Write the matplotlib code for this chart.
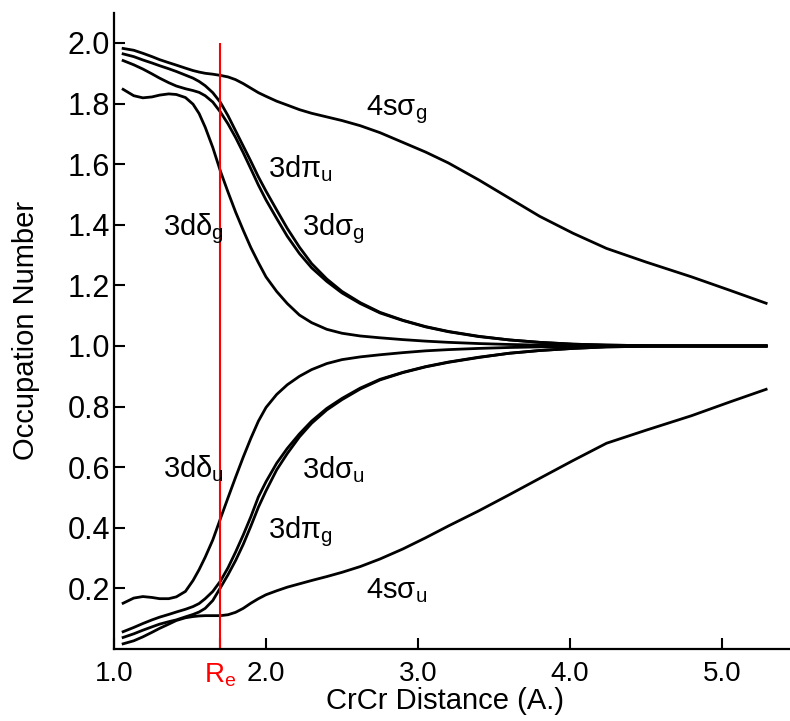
import numpy as np
import matplotlib
matplotlib.use("Agg")
import matplotlib.pyplot as plt

# fonts: Helvetica-like everywhere, subscripts through mathtext
plt.rcParams['font.family'] = ['Liberation Sans', 'DejaVu Sans']
plt.rcParams['mathtext.fontset'] = 'custom'
plt.rcParams['mathtext.rm'] = 'Liberation Sans'
plt.rcParams['mathtext.it'] = 'Liberation Sans'
plt.rcParams['mathtext.default'] = 'regular'

# %% DATA
R = [1.06, 1.13, 1.19, 1.25, 1.30, 1.36, 1.41, 1.47, 1.52, 1.56,
     1.60, 1.65, 1.70, 1.75, 1.80, 1.85, 1.90, 1.95, 2.00, 2.07,
     2.14, 2.22, 2.30, 2.40, 2.50, 2.62, 2.75, 2.90, 3.05, 3.20,
     3.40, 3.60, 3.80, 4.02, 4.24, 4.50, 4.80, 5.05, 5.29]

s4_sig_g = [1.982, 1.976, 1.966, 1.955, 1.945, 1.935, 1.927, 1.917, 1.909, 1.904,
            1.900, 1.897, 1.893, 1.888, 1.879, 1.866, 1.851, 1.836, 1.824, 1.808,
            1.795, 1.780, 1.768, 1.756, 1.744, 1.727, 1.704, 1.672, 1.640, 1.604,
            1.548, 1.488, 1.428, 1.372, 1.322, 1.277, 1.228, 1.184, 1.141]
d3_pi_u = [1.964, 1.955, 1.944, 1.934, 1.925, 1.915, 1.906, 1.894, 1.884, 1.873,
           1.859, 1.836, 1.804, 1.760, 1.710, 1.660, 1.610, 1.558, 1.511, 1.449,
           1.388, 1.326, 1.272, 1.221, 1.180, 1.143, 1.111, 1.085, 1.064, 1.048,
           1.032, 1.020, 1.012, 1.006, 1.003, 1.001, 1.000, 1.000, 1.000]
d3_sig_g = [1.942, 1.928, 1.914, 1.898, 1.884, 1.869, 1.858, 1.849, 1.843, 1.837,
            1.826, 1.805, 1.772, 1.733, 1.688, 1.638, 1.585, 1.531, 1.482, 1.421,
            1.362, 1.305, 1.258, 1.213, 1.175, 1.140, 1.109, 1.084, 1.063, 1.047,
            1.031, 1.020, 1.012, 1.006, 1.003, 1.001, 1.000, 1.000, 1.000]
d3_del_g = [1.847, 1.826, 1.819, 1.822, 1.828, 1.832, 1.830, 1.820, 1.798, 1.767,
            1.722, 1.655, 1.577, 1.508, 1.442, 1.382, 1.325, 1.275, 1.228, 1.180,
            1.140, 1.102, 1.077, 1.055, 1.042, 1.033, 1.027, 1.021, 1.016, 1.012,
            1.008, 1.005, 1.003, 1.002, 1.001, 1.000, 1.000, 1.000, 1.000]

s4_sig_u = [0.017, 0.027, 0.040, 0.055, 0.068, 0.082, 0.094, 0.103, 0.107, 0.109,
            0.110, 0.110, 0.110, 0.113, 0.121, 0.134, 0.151, 0.166, 0.179, 0.192,
            0.204, 0.215, 0.226, 0.239, 0.253, 0.272, 0.297, 0.330, 0.367, 0.406,
            0.456, 0.509, 0.563, 0.622, 0.679, 0.722, 0.770, 0.815, 0.857]
d3_sig_u = [0.057, 0.071, 0.084, 0.096, 0.105, 0.114, 0.122, 0.131, 0.140, 0.150,
            0.166, 0.190, 0.224, 0.268, 0.320, 0.376, 0.436, 0.502, 0.552, 0.613,
            0.662, 0.710, 0.752, 0.794, 0.827, 0.861, 0.890, 0.913, 0.932, 0.947,
            0.963, 0.976, 0.985, 0.992, 0.997, 0.999, 1.000, 1.000, 1.000]
d3_pi_g = [0.038, 0.050, 0.062, 0.073, 0.082, 0.090, 0.096, 0.106, 0.114, 0.122,
           0.134, 0.160, 0.202, 0.245, 0.292, 0.345, 0.405, 0.468, 0.522, 0.591,
           0.645, 0.700, 0.745, 0.789, 0.823, 0.858, 0.888, 0.912, 0.931, 0.946,
           0.962, 0.976, 0.985, 0.992, 0.997, 0.999, 1.000, 1.000, 1.000]
d3_del_u = [0.151, 0.168, 0.173, 0.170, 0.166, 0.166, 0.172, 0.190, 0.226, 0.262,
            0.303, 0.360, 0.430, 0.499, 0.567, 0.633, 0.695, 0.752, 0.797, 0.840,
            0.872, 0.900, 0.922, 0.942, 0.955, 0.964, 0.971, 0.978, 0.984, 0.988,
            0.992, 0.995, 0.997, 0.998, 0.999, 1.000, 1.000, 1.000, 1.000]

R_e = 1.70

# label text and where it sits (left edge, baseline)
labels = ['4sσ$_{g}$', '3dπ$_{u}$', '3dσ$_{g}$', '3dδ$_{g}$',
          '3dδ$_{u}$', '3dσ$_{u}$', '3dπ$_{g}$', '4sσ$_{u}$']
label_x = [2.66, 2.01, 2.24, 1.32, 1.32, 2.24, 2.01, 2.66]
label_y = [1.762, 1.558, 1.366, 1.366, 0.568, 0.564, 0.366, 0.168]

# %% PLOT
fig = plt.figure(figsize=(7.9, 7.21), dpi=100)
ax = fig.add_axes([0.1443, 0.0999, 0.8557, 0.8825])

for occ in [s4_sig_g, d3_pi_u, d3_sig_g, d3_del_g,
            s4_sig_u, d3_sig_u, d3_pi_g, d3_del_u]:
    ax.plot(R, occ, color='black', lw=2.0, solid_joinstyle='round')

ax.vlines(R_e, 0.0, 2.0, color='red', lw=1.5)

for txt, lx, ly in zip(labels, label_x, label_y):
    ax.text(lx, ly, txt, fontsize=21, ha='left', va='baseline')

ax.set_xlim(1.0, 5.447)
ax.set_ylim(0.0, 2.1)

ax.set_xticks([1.0, R_e, 2.0, 3.0, 4.0, 5.0])
ax.set_xticklabels(['1.0', 'R$_{e}$', '2.0', '3.0', '4.0', '5.0'])
ax.get_xticklabels()[1].set_color('red')
ax.set_yticks([0.2, 0.4, 0.6, 0.8, 1.0, 1.2, 1.4, 1.6, 1.8, 2.0])
ax.set_yticklabels(['0.2', '0.4', '0.6', '0.8', '1.0', '1.2', '1.4', '1.6', '1.8', '2.0'])

ax.tick_params(axis='both', direction='in', length=8, width=1.5)
ax.tick_params(axis='x', pad=9, labelsize=20)
ax.tick_params(axis='y', pad=3, labelsize=22)

for side in ['top', 'right']:
    ax.spines[side].set_visible(False)
for side in ['left', 'bottom']:
    ax.spines[side].set_linewidth(1.6)

ax.set_xlabel('CrCr Distance (A.)', fontsize=21, va='center')
ax.xaxis.set_label_coords(0.49, -0.081)
ax.set_ylabel('Occupation Number', fontsize=21, labelpad=20)

fig.savefig('out.png', dpi=100)
